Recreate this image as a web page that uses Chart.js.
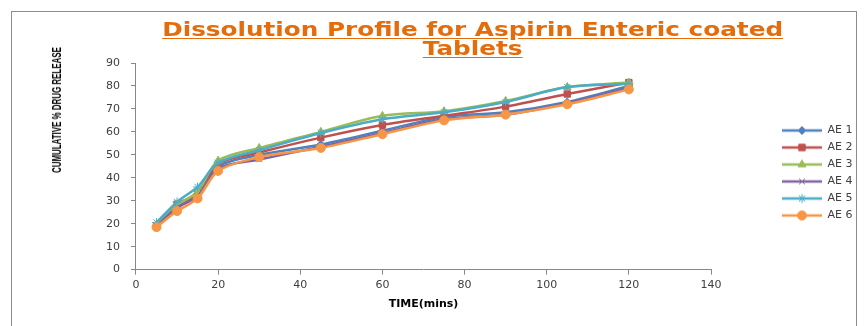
<!DOCTYPE html>
<html>
<head>
<meta charset="utf-8">
<script src="https://cdn.jsdelivr.net/npm/chart.js@4.4.1/dist/chart.umd.min.js"></script>
<style>
    body { margin: 0; background: #fff; }
    #wrap { position: relative; width: 868px; height: 326px; overflow: hidden; }
    #frame {
        position: absolute; left: 11px; top: 11px; width: 844px; height: 330px;
        border: 1.5px solid #8c8c8c; border-bottom: none;
    }
    #title {
        position: absolute; left: 140px; top: 20px; width: 665px;
        text-align: center; color: #E46C0A;
        font: bold 19px "DejaVu Sans", sans-serif; line-height: 19px;
        text-decoration: underline; text-underline-offset: 2px;
        transform: scaleX(1.3); transform-origin: 332px 0;
    }
    #ytitle {
        position: absolute; left: 57px; top: 110px; white-space: nowrap;
        font: bold 12px "Liberation Sans Narrow", "Liberation Sans", sans-serif;
        color: #000;
        transform: translate(-50%, -50%) rotate(-90deg) scaleX(0.66);
    }
    canvas { position: absolute; left: 0; top: 0; }
</style>
</head>
<body>
<div id="wrap">
    <div id="frame"></div>
    <canvas id="dissolutionChart" width="868" height="326"></canvas>
    <div id="title">Dissolution Profile for Aspirin Enteric coated<br>Tablets</div>
    <div id="ytitle">CUMULATIVE % DRUG RELEASE</div>
</div>
<script>
// time points (mins)
const timePoints = [5, 10, 15, 20, 30, 45, 60, 75, 90, 105, 120];

// cumulative % drug release per batch
const ae1 = [19, 27, 33, 45, 50, 54.5, 60.5, 66.5, 68.5, 73, 80];
const ae2 = [19, 28.5, 33, 46, 51, 57.5, 63, 67, 71, 76.5, 81.5];
const ae3 = [19.5, 28, 34, 47.5, 53, 60, 67, 69, 73.5, 79.5, 81.5];
const ae4 = [19, 27, 32, 44, 48, 53.5, 59.5, 65.5, 67.5, 72.5, 79];
const ae5 = [20.5, 29.5, 36, 46.5, 52, 59.5, 65.5, 68.5, 73, 79.5, 81];
const ae6 = [18.5, 25.5, 31, 43, 49, 53, 59, 65, 67.5, 72, 78.5];

const seriesNames = ['AE 1', 'AE 2', 'AE 3', 'AE 4', 'AE 5', 'AE 6'];
const seriesValues = [ae1, ae2, ae3, ae4, ae5, ae6];
const seriesColors = ['#4F81BD', '#C0504D', '#9BBB59', '#8064A2', '#4BACC6', '#F79646'];
const seriesMarkers = ['rectRot', 'rect', 'triangle', 'crossRot', 'star', 'circle'];
const markerSizes = [4, 4.5, 4.5, 4, 4.5, 4.5];

const xTicks = [0, 20, 40, 60, 80, 100, 120, 140];
const yTicks = [0, 10, 20, 30, 40, 50, 60, 70, 80, 90];

function makeLegendIcon(color, marker, size) {
    const c = document.createElement('canvas');
    c.width = 40;
    c.height = 14;
    const ctx = c.getContext('2d');
    ctx.strokeStyle = color;
    ctx.lineWidth = 2.5;
    ctx.beginPath();
    ctx.moveTo(0, 7);
    ctx.lineTo(40, 7);
    ctx.stroke();
    ctx.fillStyle = color;
    ctx.lineWidth = 1;
    Chart.helpers.drawPoint(ctx, { pointStyle: marker, radius: size, rotation: 0, borderWidth: 1 }, 20, 7);
    if (marker !== 'crossRot' && marker !== 'star') {
        ctx.fill();
    }
    return c;
}

const datasets = seriesNames.map((name, i) => ({
    label: name,
    data: timePoints.map((t, j) => ({ x: t, y: seriesValues[i][j] })),
    borderColor: seriesColors[i],
    backgroundColor: seriesColors[i],
    borderWidth: 2.5,
    pointStyle: seriesMarkers[i],
    pointRadius: markerSizes[i],
    pointBorderWidth: 1,
    tension: 0.3,
    order: seriesNames.length - i
}));

// keep the plot right edge at 140 but draw the legend further right
const legendShift = {
    id: 'legendShift',
    beforeInit(chart) {
        const fit = chart.legend.fit;
        chart.legend.fit = function() {
            fit.bind(chart.legend)();
            this.width = 139;
        };
    },
    afterLayout(chart) {
        const l = chart.legend;
        l.left += 65; l.right += 65;
        l.top -= 14; l.bottom -= 14;
    }
};

const tickFont = { family: '"DejaVu Sans", sans-serif', size: 11 };

new Chart(document.getElementById('dissolutionChart'), {
    type: 'line',
    data: { datasets: datasets },
    plugins: [legendShift],
    options: {
        responsive: false,
        animation: false,
        layout: { padding: { left: 95, right: 18, top: 63, bottom: 15 } },
        plugins: {
            tooltip: { enabled: false },
            legend: {
                position: 'right',
                labels: {
                    usePointStyle: true,
                    pointStyleWidth: 40,
                    padding: 6,
                    color: '#404040',
                    font: tickFont,
                    generateLabels(chart) {
                        return chart.data.datasets.map((ds, i) => ({
                            text: ds.label,
                            datasetIndex: i,
                            pointStyle: makeLegendIcon(seriesColors[i], seriesMarkers[i], markerSizes[i]),
                            fillStyle: seriesColors[i],
                            strokeStyle: seriesColors[i],
                            fontColor: '#404040',
                            lineWidth: 0
                        }));
                    }
                }
            }
        },
        scales: {
            x: {
                type: 'linear',
                min: 0,
                max: 140,
                afterBuildTicks(axis) { axis.ticks = xTicks.map(v => ({ value: v })); },
                grid: { drawOnChartArea: false, tickLength: 5, color: '#888' },
                border: { color: '#888', width: 1 },
                ticks: { color: '#404040', font: tickFont, padding: 4, maxRotation: 0 },
                title: {
                    display: true,
                    text: 'TIME(mins)',
                    color: '#000',
                    font: { family: '"DejaVu Sans", sans-serif', size: 11, weight: 'bold' },
                    padding: { top: 2, bottom: 0 }
                }
            },
            y: {
                min: 0,
                max: 90,
                afterBuildTicks(axis) { axis.ticks = yTicks.map(v => ({ value: v })); },
                grid: { drawOnChartArea: false, tickLength: 5, color: '#888' },
                border: { color: '#888', width: 1 },
                ticks: { color: '#404040', font: tickFont, padding: 11 }
            }
        }
    }
});
</script>
</body>
</html>
